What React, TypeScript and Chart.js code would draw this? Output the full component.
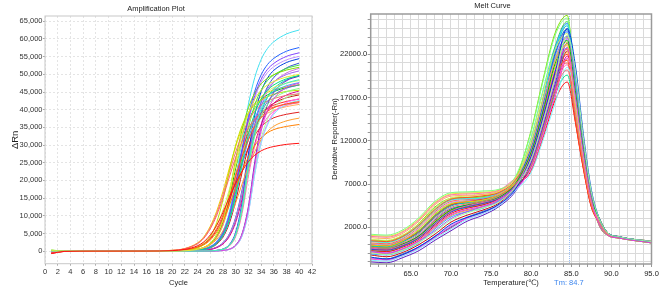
import React, { useEffect, useRef } from "react";
import { Chart, registerables } from "chart.js";

Chart.register(...registerables);

const FONT = "'Liberation Sans', Arial, 'DejaVu Sans', 'Noto Sans CJK SC', sans-serif";

// ---------- Amplification plot data ----------
const CYCLES = [1, 3, 8, 16, 20, 22, 24, 25, 26, 27, 28, 29, 30, 31, 32, 33, 34, 35, 36, 38, 40];

const AMP_CURVES: number[][] = [
  [-650, -90, 0, 20, 150, 490, 1530, 2650, 4580, 7320, 10980, 15250, 19220, 22570, 25320, 27150, 28370, 29130, 29590, 30200, 30500],
  [-500, -60, 10, 30, 210, 672, 2100, 3654, 6300, 10080, 15120, 21000, 26460, 31080, 34860, 37380, 39060, 40110, 40740, 41580, 42000],
  [-550, -70, 0, 25, 223, 712, 2225, 3872, 6675, 10680, 16020, 22250, 28035, 32930, 36935, 39605, 41385, 42498, 43165, 44055, 44500],
  [-600, -80, -10, 15, 111, 356, 1106, 1975, 3437, 5925, 9480, 14220, 19750, 24885, 29230, 32785, 35155, 36735, 37723, 38710, 39303],
  [-700, -100, 0, 10, 22, 86, 430, 903, 1892, 3870, 7611, 13760, 21500, 28380, 33540, 36980, 39130, 40420, 41280, 42355, 43000],
  [-450, -50, 0, 5, 9, 45, 223, 445, 935, 1958, 4005, 7877, 14240, 22250, 29370, 34710, 38270, 40495, 41830, 43388, 44189],
  [-400, -40, 10, 15, 119, 383, 1190, 2125, 3698, 6375, 10200, 15300, 21250, 26775, 31450, 35275, 37825, 39525, 40588, 41650, 42288],
  [-350, -50, 0, 15, 101, 324, 1008, 1800, 3132, 5400, 8640, 12960, 18000, 22680, 26640, 29880, 32040, 33480, 34380, 35280, 35820],
  [-300, -30, 0, 10, 57, 190, 608, 1064, 1900, 3306, 5700, 9120, 13680, 19000, 23940, 28120, 31540, 33820, 35340, 36860, 37620],
  [-250, -30, 10, 5, 21, 83, 415, 872, 1826, 3735, 7346, 13280, 20750, 27390, 32370, 35690, 37765, 39010, 39840, 40878, 41500],
  [150, 30, 0, 20, 235, 752, 2350, 4089, 7050, 11280, 16920, 23500, 29610, 34780, 39010, 41830, 43710, 44885, 45590, 46530, 47000],
  [100, 20, 0, 10, 25, 100, 500, 1050, 2200, 4500, 8850, 16000, 25000, 33000, 39000, 43000, 45500, 47000, 48000, 49250, 50000],
  [200, 40, 10, 20, 46, 228, 956, 2002, 4095, 8054, 14560, 22750, 30030, 35490, 39130, 41405, 42770, 43680, 44363, 45182, 45500],
  [250, 40, 0, 15, 136, 437, 1358, 2425, 4220, 7275, 11640, 17460, 24250, 30555, 35890, 40255, 43165, 45105, 46318, 47530, 48258],
  [300, 50, 10, 10, 26, 104, 520, 1092, 2288, 4680, 9204, 16640, 26000, 34320, 40560, 44720, 47320, 48880, 49920, 51220, 52000],
  [250, 30, 0, 10, 11, 53, 265, 530, 1113, 2332, 4770, 9381, 16960, 26500, 34980, 41340, 45580, 48230, 49820, 51675, 52629],
  [200, 30, 0, 5, 24, 94, 470, 987, 2068, 4230, 8319, 15040, 23500, 31020, 36660, 40420, 42770, 44180, 45120, 46295, 47000],
  [150, 20, 0, 0, 0, 0, 0, 19, 60, 186, 512, 1581, 4557, 11625, 23250, 32550, 38130, 41385, 43245, 45105, 46035],
  [100, 10, 0, 5, 10, 50, 250, 500, 1050, 2200, 4500, 8850, 16000, 25000, 33000, 39000, 43000, 45500, 47000, 48750, 49650],
  [50, 10, 0, 0, 0, 0, 0, 0, 18, 59, 182, 501, 1547, 4459, 11375, 22750, 31850, 37310, 40495, 43453, 44590],
  [-100, -10, 0, 5, 13, 63, 315, 630, 1323, 2772, 5670, 11151, 20160, 31500, 41580, 49140, 54180, 57330, 59220, 61425, 62559],
  [-50, 0, 0, 0, 5, 25, 101, 253, 505, 1061, 2222, 4545, 8939, 16160, 25250, 33330, 39390, 43430, 45955, 48480, 49743],
  [0, 0, 0, 0, 0, 0, 0, 20, 64, 196, 539, 1666, 4802, 12250, 24500, 34300, 40180, 43610, 45570, 47530, 48510],
  [-150, -20, 0, 0, 0, 0, 0, 0, 17, 57, 174, 479, 1479, 4263, 10875, 21750, 30450, 35670, 38715, 41543, 42630],
  [-200, -20, 0, 5, 10, 48, 240, 480, 1008, 2112, 4320, 8496, 15360, 24000, 31680, 37440, 41280, 43680, 45120, 46800, 47664],
  [-150, -10, 0, 5, 12, 58, 290, 580, 1218, 2552, 5220, 10266, 18560, 29000, 38280, 45240, 49880, 52780, 54520, 56550, 57594],
  [-100, -10, 0, 0, 0, 0, 0, 22, 72, 220, 605, 1870, 5390, 13750, 27500, 38500, 45100, 48950, 51150, 53350, 54450],
  [-250, -30, 0, 0, 5, 27, 108, 270, 540, 1134, 2376, 4860, 9558, 17280, 27000, 35640, 42120, 46440, 49140, 51840, 53190],
  [-200, -20, 0, 0, 0, 0, 0, 19, 62, 190, 523, 1615, 4655, 11875, 23750, 33250, 38950, 42275, 44175, 46075, 47025],
  [-150, -20, 0, 5, 11, 57, 283, 565, 1187, 2486, 5085, 10001, 18080, 28250, 37290, 44070, 48590, 51415, 53110, 55088, 56105],
  [-100, -10, 0, 0, 0, 0, 0, 21, 67, 206, 567, 1751, 5047, 12875, 25750, 36050, 42230, 45835, 47895, 49955, 50985],
  [-250, -30, 0, 0, 0, 0, 0, 0, 20, 66, 202, 556, 1717, 4949, 12625, 25250, 35350, 41410, 44945, 48228, 49490],
  [-50, 0, 0, 5, 11, 56, 278, 555, 1166, 2442, 4995, 9824, 17760, 27750, 36630, 43290, 47730, 50505, 52170, 54113, 55112],
  [-200, -20, 0, 0, 0, 0, 0, 0, 19, 63, 194, 534, 1649, 4753, 12125, 24250, 33950, 39770, 43165, 46318, 47530],
  [-300, -40, 0, 0, 0, 0, 0, 0, 18, 57, 176, 484, 1496, 4312, 11000, 22000, 30800, 36080, 39160, 42020, 43120],
  [-350, -40, 0, 0, 0, 0, 0, 17, 55, 170, 468, 1445, 4165, 10625, 21250, 29750, 34850, 37825, 39525, 41225, 42075],
  [-400, -50, 0, 0, 5, 23, 92, 230, 460, 966, 2024, 4140, 8142, 14720, 23000, 30360, 35880, 39560, 41860, 44160, 45310],
  [-150, -20, 0, 5, 5, 26, 105, 263, 525, 1103, 2310, 4725, 9293, 16800, 26250, 34650, 40950, 45150, 47775, 50400, 51713],
];

const AMP_Y_TICKS = [0, 5000, 10000, 15000, 20000, 25000, 30000, 35000, 40000, 45000, 50000, 55000, 60000, 65000];

// ---------- Melt curve data ----------
const TEMPS = [60, 62, 64, 66, 68, 70, 72, 74, 76, 78, 80, 81.5, 83, 84.5, 85.5, 86.5, 87.5, 88.5, 89.5, 91, 95];

const MELT_CURVES: number[][] = [
  [-700, -800, -300, 600, 2200, 3600, 4200, 4600, 5300, 6800, 8523, 12366, 16711, 18800, 14204, 8773, 4345, 2500, 1200, 800, 300],
  [200, 100, 700, 2000, 3800, 5000, 5200, 5400, 5900, 7300, 10472, 15195, 19413, 21000, 14280, 8820, 4368, 2800, 1300, 850, 400],
  [-300, -400, 200, 1200, 3000, 4300, 4700, 5000, 5600, 7000, 9157, 13287, 17956, 20200, 15262, 9427, 4668, 2500, 1200, 800, 300],
  [-450, -550, -50, 850, 2450, 3850, 4450, 4850, 5425, 6925, 8772, 12728, 17200, 21500, 17869, 11037, 5466, 3000, 1400, 900, 350],
  [-50, -150, 450, 1450, 3250, 4550, 4950, 5250, 5725, 7125, 9973, 14471, 19556, 22000, 16622, 10267, 5084, 2500, 1200, 800, 300],
  [-1200, -1400, -900, 0, 1200, 2600, 3400, 4000, 4800, 6500, 9140, 13261, 17920, 22400, 18617, 11499, 5695, 3000, 1400, 900, 350],
  [450, 350, 950, 2250, 4050, 5250, 5450, 5650, 6025, 7425, 10622, 15412, 19690, 21300, 14484, 8946, 4430, 2500, 1200, 800, 300],
  [-550, -650, -50, 950, 2750, 4050, 4450, 4750, 5475, 6875, 10245, 14866, 20089, 22600, 17076, 10547, 5223, 2800, 1300, 850, 400],
  [-950, -1050, -550, 350, 1950, 3350, 3950, 4350, 5175, 6675, 10064, 14603, 19733, 22200, 16773, 10360, 5131, 2200, 1100, 750, 200],
  [800, 700, 1300, 2700, 4600, 5600, 5700, 5800, 6200, 7600, 11469, 16642, 21262, 23000, 15640, 9660, 4784, 2800, 1300, 850, 400],
  [-50, -150, 450, 1750, 3550, 4750, 4950, 5150, 5775, 7175, 10517, 15260, 20622, 23200, 17529, 10827, 5362, 2500, 1200, 800, 300],
  [1050, 950, 1550, 2950, 4850, 5850, 5950, 6050, 6325, 7725, 11669, 16931, 21632, 23400, 15912, 9828, 4867, 2200, 1100, 750, 200],
  [100, 0, 600, 1600, 3400, 4700, 5100, 5400, 5800, 7200, 10880, 15787, 21333, 24000, 18133, 11200, 5547, 2800, 1300, 850, 400],
  [600, 500, 1100, 2400, 4200, 5400, 5600, 5800, 6100, 7500, 12167, 17655, 22557, 24400, 16592, 10248, 5075, 2500, 1200, 800, 300],
  [550, 450, 1050, 2450, 4350, 5350, 5450, 5550, 6075, 7475, 13214, 19174, 24498, 26500, 18020, 11130, 5512, 2200, 1100, 750, 200],
  [-200, -300, 300, 1600, 3400, 4600, 4800, 5000, 5700, 7100, 11696, 16971, 22933, 25800, 19493, 12040, 5963, 2500, 1200, 800, 300],
  [-300, -400, 100, 1000, 2600, 4000, 4600, 5000, 5500, 7000, 10699, 15524, 20978, 23600, 17831, 11013, 5454, 3000, 1400, 900, 350],
  [1200, 1100, 1700, 3100, 5000, 6000, 6100, 6200, 6400, 7800, 13065, 18957, 24221, 26200, 17816, 11004, 5450, 2800, 1300, 850, 400],
  [-700, -800, -200, 800, 2600, 3900, 4300, 4600, 5400, 6800, 8885, 12893, 17422, 19600, 14809, 9147, 4530, 2500, 1200, 800, 300],
  [-950, -1150, -650, 250, 1450, 2850, 3650, 4250, 4925, 6625, 9874, 14326, 19360, 24200, 20114, 12422, 6152, 3000, 1400, 900, 350],
  [400, 300, 900, 2300, 4200, 5200, 5300, 5400, 6000, 7400, 11560, 16773, 22667, 25500, 19267, 11900, 5893, 2800, 1300, 850, 400],
  [-150, -250, 350, 1350, 3150, 4450, 4850, 5150, 5675, 7075, 11469, 16642, 22489, 25300, 19115, 11807, 5847, 2500, 1200, 800, 300],
  [350, 250, 850, 2150, 3950, 5150, 5350, 5550, 5975, 7375, 12367, 17944, 22926, 24800, 16864, 10416, 5159, 2200, 1100, 750, 200],
  [-1800, -1900, -1300, -500, 700, 1800, 2900, 3600, 4500, 6200, 8364, 12136, 16400, 20500, 17038, 10524, 5212, 3000, 1400, 900, 350],
  [-1100, -1200, -700, 200, 1800, 3200, 3800, 4200, 5100, 6600, 11152, 16181, 21867, 24600, 18587, 11480, 5685, 2800, 1300, 850, 400],
  [-450, -550, 50, 1050, 2850, 4150, 4550, 4850, 5525, 6925, 11605, 16839, 22756, 25600, 19342, 11947, 5916, 2500, 1200, 800, 300],
  [-1450, -1650, -1150, -250, 950, 2350, 3150, 3750, 4675, 6375, 10200, 14800, 20000, 25000, 20778, 12833, 6355, 3000, 1400, 900, 350],
  [-550, -650, -150, 750, 2350, 3750, 4350, 4750, 5375, 6875, 11288, 16379, 22133, 24900, 18813, 11620, 5755, 2500, 1200, 800, 300],
  [-1550, -1650, -1050, -250, 950, 2050, 3150, 3850, 4625, 6325, 9302, 13497, 18240, 22800, 18950, 11704, 5796, 3000, 1400, 900, 350],
  [0, -100, 500, 1500, 3300, 4600, 5000, 5300, 5750, 7150, 10925, 15853, 21422, 24100, 18209, 11247, 5570, 2200, 1100, 750, 200],
  [-800, -1000, -500, 400, 1600, 3000, 3800, 4400, 5000, 6700, 9710, 14090, 19040, 23800, 19780, 12217, 6050, 3000, 1400, 900, 350],
  [-2000, -2100, -1500, -700, 500, 1600, 2700, 3400, 4400, 6100, 9507, 13793, 18640, 23300, 19364, 11960, 5924, 3000, 1400, 900, 350],
  [50, -50, 550, 1850, 3650, 4850, 5050, 5250, 5825, 7225, 11197, 16247, 21956, 24700, 18662, 11527, 5708, 2800, 1300, 850, 400],
  [-850, -950, -450, 450, 2050, 3450, 4050, 4450, 5225, 6725, 10291, 14932, 20178, 22700, 17151, 10593, 5246, 2200, 1100, 750, 200],
  [-1600, -1800, -1300, -400, 800, 2200, 3000, 3600, 4600, 6300, 8813, 12787, 17280, 21600, 17952, 11088, 5491, 3000, 1400, 900, 350],
  [950, 850, 1450, 2850, 4750, 5750, 5850, 5950, 6275, 7675, 9429, 13682, 18489, 20800, 15716, 9707, 4807, 2800, 1300, 850, 400],
  [-1650, -1750, -1150, -350, 850, 1950, 3050, 3750, 4575, 6275, 8895, 12906, 17440, 21800, 18118, 11190, 5542, 3000, 1400, 900, 350],
  [-400, -500, 0, 900, 2500, 3900, 4500, 4900, 5450, 6950, 10835, 15721, 21244, 23900, 18058, 11154, 5524, 2500, 1200, 800, 300],
];

const MELT_Y_LABELS = [2000, 7000, 12000, 17000, 22000];
const MELT_X_LABELS = [65, 70, 75, 80, 85, 90, 95];
const TM_VALUE = 84.7;

const CURVE_COLORS = [
  "#ff1010", "#ff6060", "#f07070", "#e02020", "#ff2a2a", "#c81010", "#ff5020", "#ff8000",
  "#ffa030", "#ffb060", "#f0d000", "#e8e830", "#c0e000", "#d0f060", "#80e000", "#40e040",
  "#00c000", "#80ff80", "#00e080", "#a0ffa0", "#40e0f0", "#00c0c0", "#40f0c0", "#80f0ff",
  "#40a0ff", "#2060ff", "#0040e0", "#3050d0", "#5080c0", "#8040ff", "#a060f0", "#6020c0",
  "#c090ff", "#e040e0", "#ff60ff", "#ff70b0", "#e00090", "#d070e0",
];

function framePlugin(id: string, color: string, width: number) {
  return {
    id,
    afterDatasetsDraw(chart: any) {
      const { ctx, chartArea } = chart;
      ctx.save();
      ctx.strokeStyle = color;
      ctx.lineWidth = width;
      ctx.strokeRect(chartArea.left, chartArea.top, chartArea.right - chartArea.left, chartArea.bottom - chartArea.top);
      ctx.restore();
    },
  };
}

const tmPlugin = {
  id: "tmMarker",
  beforeDatasetsDraw(chart: any) {
    const { ctx, chartArea, scales } = chart;
    const x = Math.round(scales.x.getPixelForValue(TM_VALUE)) + 0.5;
    ctx.save();
    ctx.strokeStyle = "#9cc0f5";
    ctx.lineWidth = 1;
    ctx.setLineDash([1, 1]);
    ctx.beginPath();
    ctx.moveTo(x, chartArea.top);
    ctx.lineTo(x, chartArea.bottom);
    ctx.stroke();
    ctx.restore();
  },
  afterDraw(chart: any) {
    const { ctx, scales } = chart;
    const x = scales.x.getPixelForValue(TM_VALUE);
    ctx.save();
    ctx.font = `7.5px ${FONT}`;
    ctx.fillStyle = "#3d86ee";
    ctx.textAlign = "center";
    ctx.textBaseline = "middle";
    ctx.fillText(`Tm: ${TM_VALUE.toFixed(1)}`, x, 283.3);
    ctx.restore();
  },
};

export default function App() {
  const leftRef = useRef<HTMLCanvasElement>(null);
  const rightRef = useRef<HTMLCanvasElement>(null);

  useEffect(() => {
    document.body.style.margin = "0";
    Chart.defaults.font.family = FONT;

    const n = CURVE_COLORS.length;
    const ampDatasets = AMP_CURVES.map((vals, i) => ({
      data: vals.map((v, j) => ({ x: CYCLES[j], y: v })),
      borderColor: CURVE_COLORS[i],
      borderWidth: 1,
      pointRadius: 0,
      fill: false,
      order: (i * 7) % n,
      cubicInterpolationMode: "monotone" as const,
    }));

    const meltDatasets = MELT_CURVES.map((vals, i) => ({
      data: vals.map((v, j) => ({ x: TEMPS[j], y: v })),
      borderColor: CURVE_COLORS[i],
      borderWidth: 1,
      pointRadius: 0,
      fill: false,
      order: (i * 11 + 19) % n,
      cubicInterpolationMode: "monotone" as const,
    }));

    const left = new Chart(leftRef.current!, {
      type: "line",
      data: { datasets: ampDatasets as any },
      plugins: [framePlugin("ampFrame", "#c8c8c8", 1)],
      options: {
        animation: false,
        responsive: false,
        devicePixelRatio: 1,
        layout: { padding: { left: 0, right: 18, top: 0, bottom: 0 } },
        plugins: {
          legend: { display: false },
          tooltip: { enabled: false },
          title: {
            display: true,
            text: "Amplification Plot",
            color: "#222",
            font: { size: 7.5, family: FONT, weight: "normal" },
            padding: { top: 4.5, bottom: 2.5 },
          },
        },
        scales: {
          x: {
            type: "linear",
            min: 0,
            max: 42,
            afterFit: (s: any) => { s.height = 28.3; },
            ticks: { stepSize: 2, autoSkip: false, maxRotation: 0, color: "#333", font: { size: 7.5 }, padding: 1.5 },
            grid: { color: "#e4e4e4", tickLength: 2, tickColor: "#aaa" },
            border: { display: false, dash: [2, 2] },
            title: { display: true, text: "Cycle", color: "#222", font: { size: 7.5 }, padding: { top: 0, bottom: 4.8 } },
          },
          y: {
            type: "linear",
            min: -3550,
            max: 66500,
            afterFit: (s: any) => { s.width = 45; },
            afterBuildTicks: (s: any) => { s.ticks = AMP_Y_TICKS.map((v) => ({ value: v })); },
            ticks: {
              autoSkip: false,
              color: "#333",
              font: { size: 7.5 },
              padding: 0.5,
              callback: (v: any) => Number(v).toLocaleString("en-US"),
            },
            grid: { color: "#e4e4e4", tickLength: 2, tickColor: "#aaa" },
            border: { display: false, dash: [2, 2] },
            title: { display: true, text: "ΔRn", color: "#222", font: { size: 9.5 }, padding: { top: 9.3, bottom: 0 } },
          },
        },
      } as any,
    });

    const meltYGrid: number[] = [];
    for (let v = -2000; v <= 26000; v += 1000) meltYGrid.push(v);
    const meltXGrid: number[] = [];
    for (let t = 60; t <= 95; t += 1) meltXGrid.push(t);

    const right = new Chart(rightRef.current!, {
      type: "line",
      data: { datasets: meltDatasets as any },
      plugins: [tmPlugin, framePlugin("meltFrame", "#9a9a9a", 1.5)],
      options: {
        animation: false,
        responsive: false,
        devicePixelRatio: 1,
        layout: { padding: { left: 0, right: 6, top: 0, bottom: 0 } },
        plugins: {
          legend: { display: false },
          tooltip: { enabled: false },
          title: {
            display: true,
            text: "Melt Curve",
            color: "#222",
            font: { size: 7.5, family: FONT, weight: "normal" },
            padding: { top: 1, bottom: 4 },
          },
        },
        scales: {
          x: {
            type: "linear",
            min: 60,
            max: 95,
            afterFit: (s: any) => { s.height = 28; },
            afterBuildTicks: (s: any) => { s.ticks = meltXGrid.map((v) => ({ value: v })); },
            ticks: {
              autoSkip: false,
              maxRotation: 0,
              color: "#222",
              font: { size: 7.5 },
              padding: 2.2,
              callback: (v: any) => (MELT_X_LABELS.includes(Number(v)) ? Number(v).toFixed(1) : ""),
            },
            grid: { color: "#dadada", tickLength: 3, tickColor: "#999" },
            border: { display: false },
            title: { display: true, text: "Temperature(℃)", color: "#222", font: { size: 7.5 }, padding: { top: 0, bottom: 4.2 } },
          },
          y: {
            type: "linear",
            min: -2240,
            max: 26660,
            afterFit: (s: any) => { s.width = 40.7; },
            afterBuildTicks: (s: any) => { s.ticks = meltYGrid.map((v) => ({ value: v })); },
            ticks: {
              autoSkip: false,
              color: "#222",
              font: { size: 7.5 },
              padding: 0.5,
              callback: (v: any) => (MELT_Y_LABELS.includes(Number(v)) ? Number(v).toFixed(1) : ""),
            },
            grid: { color: "#dadada", tickLength: 3, tickColor: "#999" },
            border: { display: false },
            title: { display: true, text: "Derivative Reporter(-Rn)", color: "#222", font: { size: 7.5 }, padding: { top: 0.5, bottom: 0 } },
          },
        },
      } as any,
    });

    return () => {
      left.destroy();
      right.destroy();
    };
  }, []);

  return (
    <div style={{ position: "relative", width: 661, height: 292, background: "#fff", overflow: "hidden" }}>
      <canvas ref={leftRef} width={330} height={292} style={{ position: "absolute", left: 0, top: 0, width: 330, height: 292 }} />
      <canvas ref={rightRef} width={331} height={292} style={{ position: "absolute", left: 330, top: 0, width: 331, height: 292 }} />
    </div>
  );
}
